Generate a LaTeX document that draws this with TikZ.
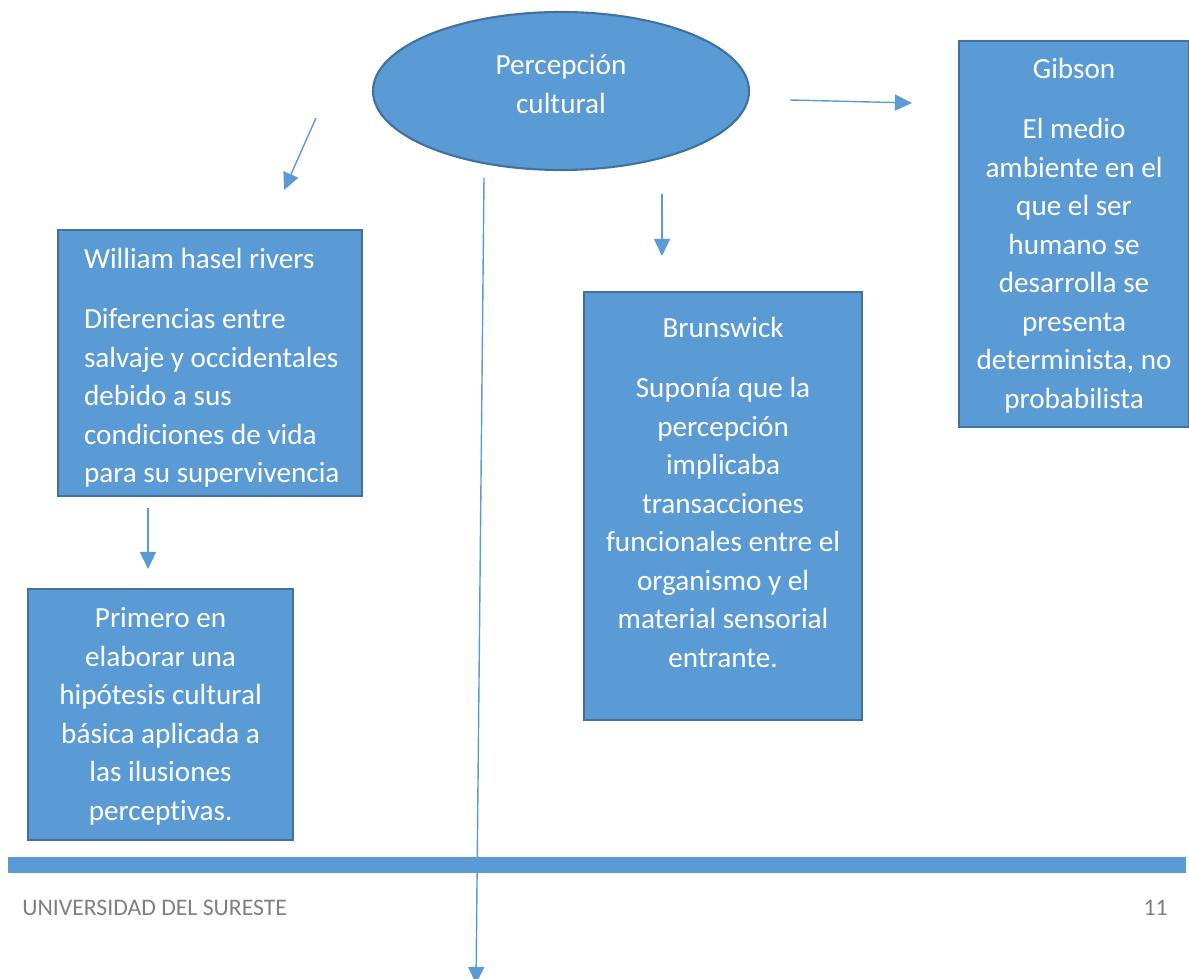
\documentclass[tikz,border=0pt]{standalone}
\usepackage{fontspec}
\setmainfont[Ligatures=NoCommon]{Carlito}
\usetikzlibrary{shapes.geometric}
\usetikzlibrary{arrows.meta}
\definecolor{boxfill}{HTML}{5B9BD5}
\definecolor{boxline}{HTML}{41719C}
\definecolor{footgray}{HTML}{7F7F7F}
\newcommand{\cardfont}{\fontsize{16.6}{21.9}\selectfont}
\newcommand{\cardtext}[3]{\parbox[t][#1][t]{#2}{#3}}
\newcommand{\cardgap}{\par\vspace{12.2pt}}

\begin{document}
\begin{tikzpicture}[x=0.2mm,y=-0.2mm]
    \tikzset{
        card/.style={draw=boxline, fill=boxfill, line width=1.2pt, text=white, font=\cardfont, anchor=north west, inner xsep=0pt},
        link/.style={draw=boxfill, line width=0.8pt, -{Triangle[length=3.4mm,width=3.2mm]}},
        foot/.style={text=footgray, font=\fontsize{13.5}{16}\selectfont, inner sep=0pt}
    }
    \useasboundingbox (0,0) rectangle (1189,979);
    % centre
    \node[ellipse, draw=boxline, fill=boxfill, line width=1.2pt, text=white, font=\cardfont,
          minimum width=75.2mm, minimum height=31.6mm, inner sep=0pt] (percep) at (561,91)
        {\raisebox{0pt}[\height][\dimexpr\depth+2.8mm\relax]{\parbox{40mm}{\centering Percepción\\cultural}}};
    % boxes
    \node[card, inner ysep=2.4mm] (rivers) at (57,229)
        {\cardtext{48.4mm}{60.8mm}{\raggedright\leftskip=5.2mm\strut William hasel rivers\cardgap
         Diferencias entre\\salvaje y occidentales\\debido a sus\\condiciones de vida\\para su supervivencia}};
    \node[card, inner ysep=2.4mm] (primero) at (27,588)
        {\cardtext{45.4mm}{53mm}{\centering\strut Primero en\\elaborar una\\hipótesis cultural\\básica aplicada a\\las ilusiones\\perceptivas.}};
    \node[card, inner ysep=3.8mm] (brunswick) at (583,291)
        {\cardtext{78mm}{55.6mm}{\centering\strut Brunswick\cardgap
         Suponía que la\\percepción\\implicaba\\transacciones\\funcionales entre el\\organismo y el\\material sensorial\\entrante.}};
    \node[card, inner ysep=2.2mm] (gibson) at (958,40)
        {\cardtext{72.8mm}{46mm}{\centering\strut Gibson\cardgap
         El medio\\ambiente en el\\que el ser\\humano se\\desarrolla se\\presenta\\determinista, no\\probabilista}};
    % footer
    \fill[boxfill] (8,857) rectangle (1186,873);
    \node[foot, anchor=base west] (uni) at (22,915) {UNIVERSIDAD DEL SURESTE};
    \node[foot, anchor=base east] (page) at (1168,915) {11};
    % arrows
    \coordinate (riversfrom) at (316,118);
    \coordinate (riversto) at (284,190);
    \coordinate (primerofrom) at (148,508);
    \coordinate (primeroto) at (148,569);
    \coordinate (brunswickfrom) at (662,194);
    \coordinate (brunswickto) at (662,256);
    \coordinate (gibsonfrom) at (790,100);
    \coordinate (gibsonto) at (912,103);
    \coordinate (downfrom) at (484,178);
    \coordinate (downto) at (476,984);
    \draw[link] (riversfrom) -- (riversto);
    \draw[link] (primerofrom) -- (primeroto);
    \draw[link] (brunswickfrom) -- (brunswickto);
    \draw[link] (gibsonfrom) -- (gibsonto);
    \draw[link] (downfrom) -- (downto);
\end{tikzpicture}
\end{document}
